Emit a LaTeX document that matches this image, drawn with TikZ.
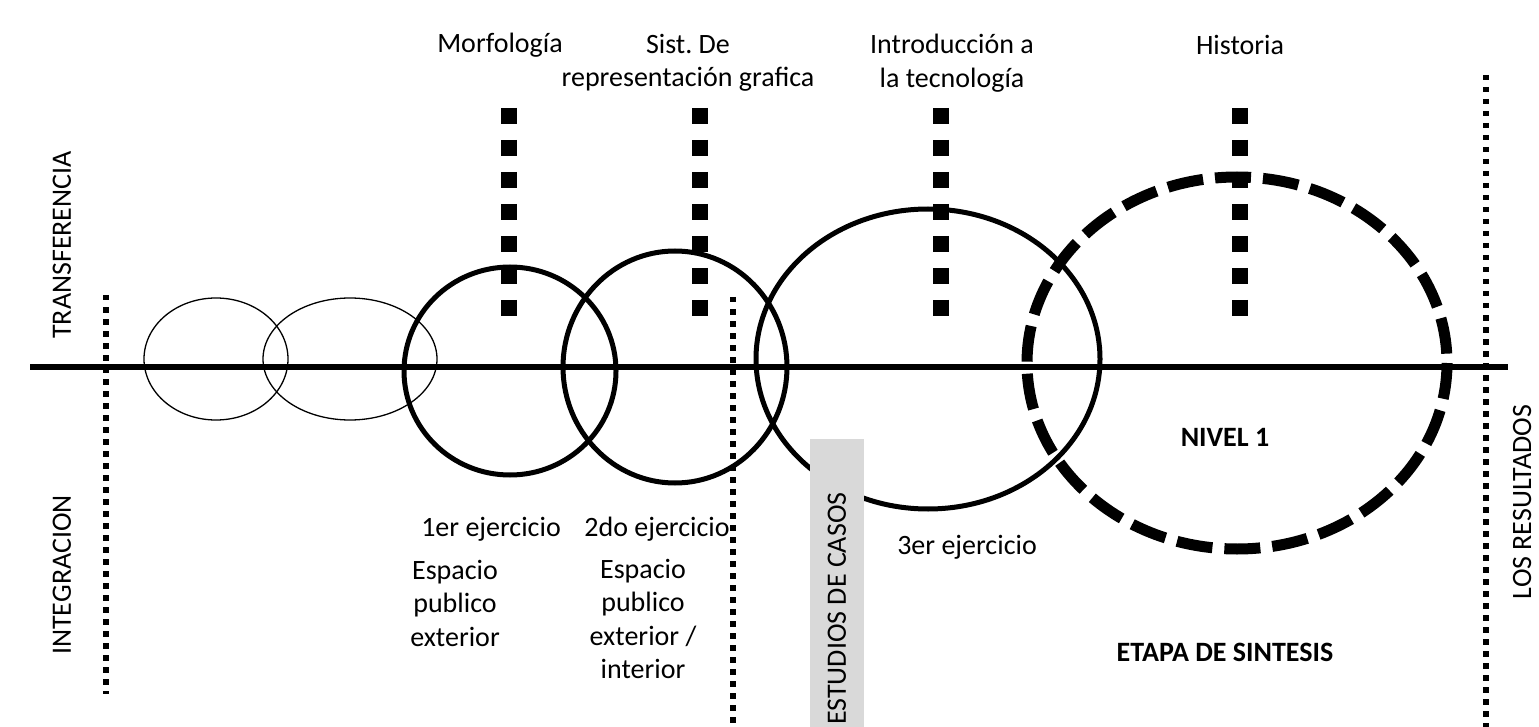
\documentclass[tikz,border=0pt]{standalone}
\usepackage{fontspec}
\setmainfont{Carlito}
\frenchspacing
\begin{document}
\begin{tikzpicture}[x=1pt,y=-1pt,
    txt/.style={font=\fontsize{28}{33.5}\selectfont, inner sep=0pt, align=center},
    vtxt/.style={txt, rotate=90},
    boldtxt/.style={txt, font=\fontsize{28}{33.5}\selectfont\bfseries},
    squares/.style={line width=16pt, dash pattern=on 16pt off 16pt},
    dots/.style={line width=5.5pt, dash pattern=on 5.5pt off 6.5pt},
    ring/.style={line width=5pt},
    thinring/.style={line width=1.3pt}]
    \useasboundingbox (0,0) rectangle (1539,727);
    \def\firstthin{(216,359) ellipse (72 and 61)}
    \def\secondthin{(350,359) ellipse (87 and 61)}
    \def\firstring{(510,371) ellipse (106 and 104)}
    \def\secondring{(675,367) ellipse (112 and 116)}
    \def\thirdring{(928,359) ellipse (172 and 150)}
    \def\bigring{(1237,363) ellipse (210 and 186)}
    % eje
    \draw[line width=6pt] (30,367) -- (1508,367);
    % circulos
    \draw[thinring] \firstthin;
    \draw[thinring] \secondthin;
    \draw[ring] \firstring;
    \draw[ring] \secondring;
    \draw[ring] \thirdring;
    \draw[line width=11pt, dash pattern=on 36pt off 12pt] \bigring;
    % lineas de puntos
    \draw[dots] (106,295) -- (106,694);
    \draw[dots] (733,297) -- (733,727);
    \draw[dots] (1486,75) -- (1486,727);
    \foreach \x in {509,700,941,1240}
        \draw[squares] (\x,108) -- (\x,316);
    % caja gris
    \fill[black!15] (810,439) rectangle (864,727);
    \node[vtxt, anchor=west] (casos) at (837,725) {ESTUDIOS DE CASOS};
    % textos
    \node[txt] (morfo) at (500,45) {Morfología};
    \node[txt] (sist) at (688,63) {Sist. De\\representación grafica};
    \node[txt] (intro) at (952,63) {Introducción a\\la tecnología};
    \node[txt] (hist) at (1240,45) {Historia};
    \node[vtxt] (transf) at (62,245) {TRANSFERENCIA};
    \node[vtxt] (integ) at (62,575) {INTEGRACION};
    \node[vtxt] (result) at (1522,502) {LOS RESULTADOS};
    \node[txt] (ej1) at (491,529) {1er ejercicio};
    \node[txt] (ej2) at (657,529) {2do ejercicio};
    \node[txt] (esp1) at (455,603) {Espacio\\publico\\exterior};
    \node[txt] (esp2) at (643,619) {Espacio\\publico\\exterior /\\interior};
    \node[txt] (ej3) at (967,547) {3er ejercicio};
    \node[boldtxt] (nivel) at (1225,437) {NIVEL 1};
    \node[boldtxt] (etapa) at (1225,652) {ETAPA DE SINTESIS};
\end{tikzpicture}
\end{document}
